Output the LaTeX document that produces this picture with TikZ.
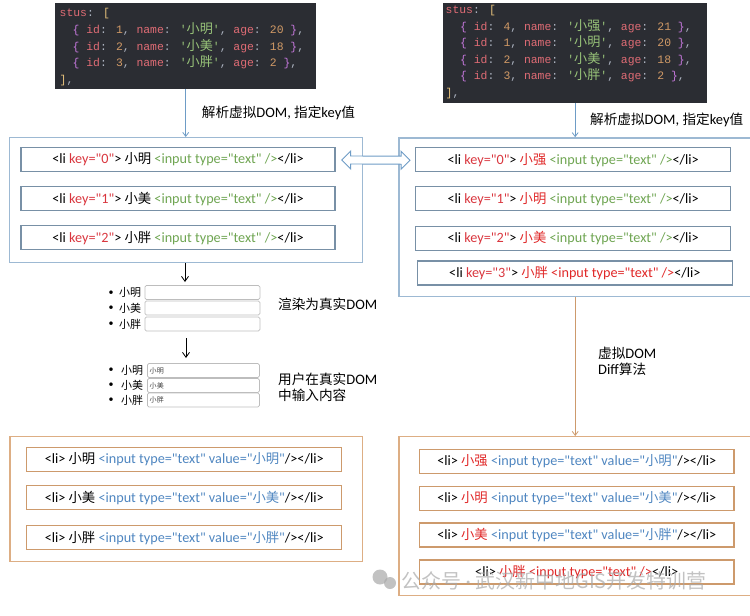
\documentclass[tikz,border=0pt]{standalone}
\usepackage{fontspec}
\setmainfont{Carlito}[Ligatures=TeXOff]
\newfontfamily\cjk{Noto Sans CJK SC}[Scale=0.94]
\newfontfamily\codecjk{Noto Sans CJK SC}[Scale=1.15]
\newfontfamily\codefont{Liberation Mono}[Ligatures=TeXOff]
\usetikzlibrary{arrows.meta,calc}
\definecolor{codebg}{HTML}{2B2D33}
\definecolor{ckey}{HTML}{E06C75}
\definecolor{cbrace}{HTML}{C678DD}
\definecolor{cnum}{HTML}{D19A66}
\definecolor{cstr}{HTML}{98C379}
\definecolor{cbrk}{HTML}{E5C07B}
\definecolor{cpun}{HTML}{ABB2BF}
\definecolor{bout}{HTML}{9DB9D3}
\definecolor{bin}{HTML}{7890A6}
\definecolor{arblue}{HTML}{6E9CC6}
\definecolor{oout}{HTML}{DDAE84}
\definecolor{oin}{HTML}{CD9A6C}
\definecolor{kred}{HTML}{D9363E}
\definecolor{igreen}{HTML}{6FA552}
\definecolor{iblue}{HTML}{4F86C0}
\definecolor{nred}{HTML}{E02828}
\definecolor{inbd}{HTML}{BDBDBD}
\definecolor{wm}{HTML}{A8A8A8}
\newcommand\zh[1]{{\cjk #1}}
\newcommand\codeitem[3]{\textcolor{cbrace}{\{} \textcolor{ckey}{id}\textcolor{cpun}{:} \textcolor{cnum}{#1}\textcolor{cpun}{,} \textcolor{ckey}{name}\textcolor{cpun}{:} \textcolor{cstr}{'{\codecjk #2}'}\textcolor{cpun}{,} \textcolor{ckey}{age}\textcolor{cpun}{:} \textcolor{cnum}{#3} \textcolor{cbrace}{\}}\textcolor{cpun}{,}}
\newcommand\kk[1]{\textcolor{kred}{key="#1"}}
\newcommand\inp{\textcolor{igreen}{<input type="text" />}}
\newcommand\inv[1]{\textcolor{iblue}{<input type="text" value="\zh{#1}"}/>}
\newcommand\rowfont{\fontsize{14.2}{17}\selectfont}
\newcommand\lblfont{\fontsize{14.5}{17}\selectfont}
\begin{document}
\begin{tikzpicture}[x=1pt,y=-1pt,
  codebox/.style={fill=codebg,draw=none,inner sep=0pt,anchor=north west},
  code/.style={anchor=base west,inner sep=0pt,font=\codefont\fontsize{11.4}{14}\selectfont},
  outerB/.style={draw=bout,line width=1.3pt,inner sep=0pt,anchor=north west},
  innerB/.style={draw=bin,line width=1.3pt,minimum height=24,inner sep=0pt,font=\rowfont},
  outerO/.style={draw=oout,line width=1.3pt,inner sep=0pt,anchor=north west},
  innerO/.style={draw=oin,line width=1.3pt,minimum height=24,inner sep=0pt,font=\rowfont},
  barrow/.style={draw=arblue,line width=0.8pt,-{Straight Barb[length=4pt,width=6pt]}},
  oarrow/.style={draw=oin,line width=0.8pt,-{Straight Barb[length=4pt,width=6pt]}},
  karrow/.style={draw=black,line width=0.8pt,-{Straight Barb[length=5pt,width=7pt]}},
  lbl/.style={anchor=west,inner sep=0pt,font=\lblfont,align=left},
  bul/.style={inner sep=0pt,font=\fontsize{10}{12}\selectfont},
  itxt/.style={anchor=west,inner sep=0pt,font=\fontsize{11.7}{13}\selectfont},
  inbox/.style={draw=inbd,line width=0.8pt,rounded corners=1.5pt,minimum height=14,inner sep=0pt,anchor=west},
  intxt/.style={anchor=west,inner sep=0pt,font=\fontsize{7.5}{9}\selectfont,text=black!75}
]
\useasboundingbox (0,0) rectangle (750,616);

% code blocks
\node[codebox,minimum width=261,minimum height=86] (codeL) at (55,3) {};
\node[code] (cl0) at (59.5,16.5) {\textcolor{ckey}{stus}\textcolor{cpun}{:} \textcolor{cbrk}{[}};
\node[code] (cl1) at (72.5,33.5) {\codeitem{1}{小明}{20}};
\node[code] (cl2) at (72.5,50) {\codeitem{2}{小美}{18}};
\node[code] (cl3) at (72.5,66.5) {\codeitem{3}{小胖}{2}};
\node[code] (cl4) at (59.5,83) {\textcolor{cbrk}{]}\textcolor{cpun}{,}};

\node[codebox,minimum width=264,minimum height=100] (codeR) at (443,3) {};
\node[code] (cr0) at (445.5,13.5) {\textcolor{ckey}{stus}\textcolor{cpun}{:} \textcolor{cbrk}{[}};
\node[code] (cr1) at (460,30) {\codeitem{4}{小强}{21}};
\node[code] (cr2) at (460,46.5) {\codeitem{1}{小明}{20}};
\node[code] (cr3) at (460,63) {\codeitem{2}{小美}{18}};
\node[code] (cr4) at (460,79.5) {\codeitem{3}{小胖}{2}};
\node[code] (cr5) at (445.5,96) {\textcolor{cbrk}{]}\textcolor{cpun}{,}};

% blue boxes
\node[outerB,minimum width=353,minimum height=125] (boxL) at (8.5,137) {};
\node[innerB,minimum width=314] (l1) at (178,159.5) {<li \kk{0}> \zh{小明} \inp</li>};
\node[innerB,minimum width=314] (l2) at (178,198.7) {<li \kk{1}> \zh{小美} \inp</li>};
\node[innerB,minimum width=314] (l3) at (178,237.8) {<li \kk{2}> \zh{小胖} \inp</li>};

\node[outerB,minimum width=360,minimum height=158.5] (boxR) at (398.3,137.2) {};
\node[innerB,minimum width=315] (r1) at (573.2,159.7) {<li \kk{0}> \textcolor{nred}{\zh{小强}} \inp</li>};
\node[innerB,minimum width=315] (r2) at (573.2,198.8) {<li \kk{1}> \textcolor{nred}{\zh{小明}} \inp</li>};
\node[innerB,minimum width=315] (r3) at (573.2,238.3) {<li \kk{2}> \textcolor{nred}{\zh{小美}} \inp</li>};
\node[innerB,minimum width=315] (r4) at (574.8,273) {<li \kk{3}> \textcolor{nred}{\zh{小胖} <input type="text" />}</li>};

\draw[barrow] (codeL.south) -- (boxL.north -| codeL.south);
\draw[barrow] (codeR.south) -- (boxR.north -| codeR.south);
\node[lbl] (lblL) at (201.7,113) {\zh{解析虚拟}DOM, \zh{指定}key\zh{值}};
\node[lbl] (lblR) at (590,120) {\zh{解析虚拟}DOM, \zh{指定}key\zh{值}};

% hollow double arrow between the blue boxes
\coordinate (dl) at ($(l1.east)+(6,0.5)$);
\coordinate (dr) at ($(r1.west)+(-5,0.5)$);
\draw[draw=arblue,line width=0.9pt,fill=white,line join=miter]
  (dl) -- ++(9,-9) -- ++(0,5) -- ($(dr)+(-9,-4)$) -- ++(0,-5) -- (dr)
  -- ++(-9,9) -- ++(0,-5) -- ($(dl)+(9,4)$) -- ++(0,5) -- cycle;

% rendered lists
\coordinate (a1e) at (185,282);
\draw[karrow] (boxL.south -| a1e) -- (a1e);
\node[bul] (b1) at (111,293) {\textbullet};
\node[itxt] (t1) at (119,292.5) {\zh{小明}};
\node[inbox,minimum width=115] (in1) at (144.5,292.5) {};
\node[bul] (b2) at (111,308) {\textbullet};
\node[itxt] (t2) at (119,308) {\zh{小美}};
\node[inbox,minimum width=115] (in2) at (144.5,308) {};
\node[bul] (b3) at (111,324) {\textbullet};
\node[itxt] (t3) at (119,324) {\zh{小胖}};
\node[inbox,minimum width=115] (in3) at (144.5,324) {};
\node[lbl] (rend) at (278,304) {\zh{渲染为真实}DOM};

\coordinate (a2s) at (186,338);
\coordinate (a2e) at (186,358);
\draw[karrow] (a2s) -- (a2e);
\node[bul] (c1) at (111,370.5) {\textbullet};
\node[itxt] (u1) at (121,370.5) {\zh{小明}};
\node[inbox,minimum width=112] (v1) at (147,370.5) {};
\node[intxt] at (149.5,370.5) {\zh{小明}};
\node[bul] (c2) at (111,385.5) {\textbullet};
\node[itxt] (u2) at (121,385.5) {\zh{小美}};
\node[inbox,minimum width=112] (v2) at (147,385.5) {};
\node[intxt] at (149.5,385.5) {\zh{小美}};
\node[bul] (c3) at (111,400) {\textbullet};
\node[itxt] (u3) at (121,400) {\zh{小胖}};
\node[inbox,minimum width=112] (v3) at (147,400) {};
\node[intxt] at (149.5,400) {\zh{小胖}};
\node[lbl] (user) at (278,387) {\zh{用户在真实}DOM\\[-1pt]\zh{中输入内容}};

% orange boxes
\node[outerO,minimum width=352.5,minimum height=124.7] (orL) at (9.3,436) {};
\node[innerO,minimum width=315] (ol1) at (184.2,459.2) {<li> \zh{小明} \inv{小明}</li>};
\node[innerO,minimum width=315] (ol2) at (184.2,497.8) {<li> \zh{小美} \inv{小美}</li>};
\node[innerO,minimum width=315] (ol3) at (184.2,537.7) {<li> \zh{小胖} \inv{小胖}</li>};

\node[outerO,minimum width=360,minimum height=159] (orR) at (398.3,436) {};
\node[innerO,minimum width=314.7] (or1) at (576.7,461.3) {<li> \textcolor{nred}{\zh{小强}} \inv{小明}</li>};
\node[innerO,minimum width=314.7] (or2) at (576.7,498.3) {<li> \textcolor{nred}{\zh{小明}} \inv{小美}</li>};
\node[innerO,minimum width=314.7] (or3) at (576.7,535) {<li> \textcolor{nred}{\zh{小美}} \inv{小胖}</li>};
\node[innerO,minimum width=314.7] (or4) at (576.7,572) {<li> \textcolor{nred}{\zh{小胖} <input type="text" />}</li>};

\draw[oarrow] (boxR.south -| codeR.south) -- (orR.north -| codeR.south);
\node[lbl] (diff) at (598,361) {\zh{虚拟}DOM\\[-1pt]Diff\zh{算法}};

% watermark
\begin{scope}[opacity=0.7]
\fill[wm] (380,577) circle (7.5);
\fill[wm] (390,583) circle (6);
\node[anchor=west,inner sep=0pt,text=wm,font=\cjk\fontsize{21.2}{23}\selectfont] (wmk) at (401,581) {公众号{\normalfont\fontsize{21}{23}\selectfont\ ·\ }武汉新中地GIS开发特训营};
\end{scope}
\end{tikzpicture}
\end{document}
